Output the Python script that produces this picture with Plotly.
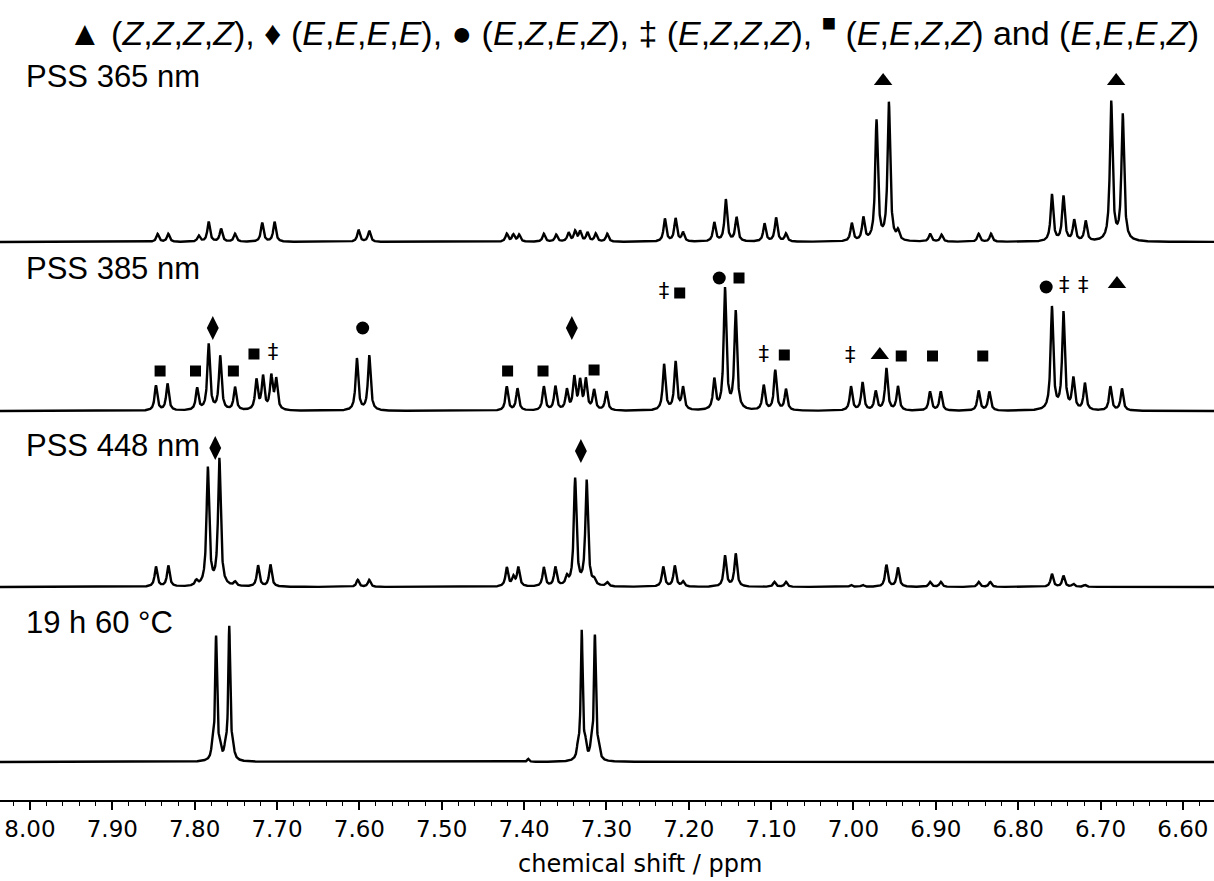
import numpy as np
import plotly.graph_objects as go

# ---- peak lists (chemical shift / ppm, intensity in plot units) ----
pss365_ppm = [7.845, 7.832, 7.795, 7.783, 7.768, 7.751, 7.718, 7.703, 7.601, 7.588,
              7.421, 7.413, 7.406, 7.376, 7.361, 7.346, 7.338, 7.332, 7.323, 7.313, 7.299,
              7.229, 7.216, 7.207, 7.169, 7.155, 7.142, 7.108, 7.094, 7.082,
              7.002, 6.988, 6.972, 6.957, 6.946, 6.907, 6.893, 6.848, 6.833,
              6.759, 6.745, 6.732, 6.718, 6.687, 6.673]
pss365_int = [8, 8, 6, 20, 13, 8, 19, 20, 12, 11,
              8, 7, 7, 8, 7, 9, 10, 10, 9, 8, 8,
              23, 23, 9, 19, 42, 24, 18, 24, 8,
              18, 23, 120, 138, 9, 8, 7, 8, 8,
              47, 45, 21, 20, 139, 126]

pss385_ppm = [7.847, 7.833, 7.797, 7.783, 7.769, 7.751, 7.725, 7.717, 7.707, 7.701, 7.603, 7.588,
              7.421, 7.408, 7.376, 7.362, 7.348, 7.339, 7.332, 7.325, 7.315, 7.300,
              7.230, 7.216, 7.207, 7.169, 7.156, 7.143, 7.109, 7.095, 7.082,
              7.003, 6.989, 6.973, 6.960, 6.946, 6.907, 6.894, 6.848, 6.835,
              6.759, 6.745, 6.733, 6.719, 6.688, 6.674]
pss385_int = [25, 27, 22, 66, 54, 23, 30, 33, 33, 30, 52, 55,
              24, 22, 24, 24, 20, 32, 28, 30, 20, 19,
              46, 48, 22, 30, 121, 98, 25, 40, 21,
              24, 28, 19, 42, 24, 19, 19, 20, 19,
              103, 97, 31, 27, 24, 22]

pss448_ppm = [7.847, 7.832, 7.798, 7.784, 7.770, 7.751, 7.723, 7.708, 7.602, 7.588,
              7.421, 7.413, 7.407, 7.376, 7.362, 7.348, 7.338, 7.324, 7.315, 7.299,
              7.231, 7.217, 7.207, 7.156, 7.143, 7.096, 7.082,
              7.003, 6.989, 6.960, 6.946, 6.907, 6.894, 6.848, 6.834,
              6.759, 6.745, 6.733, 6.719]
pss448_int = [20, 21, 5, 118, 127, 4, 21, 22, 7, 7,
              19, 9, 19, 19, 19, 8, 107, 105, 5, 4,
              20, 21, 5, 31, 33, 5, 5,
              2, 2, 22, 19, 5, 5, 5, 5,
              13, 11, 3, 2]

therm_ppm = [7.7785, 7.774, 7.7695, 7.7625, 7.758, 7.7535, 7.395,
             7.3345, 7.330, 7.3255, 7.3185, 7.314, 7.3095]
therm_int = [12, 123, 12, 12, 133, 12, 3,
             12, 129, 12, 12, 124, 12]

spectra = [
    ("PSS 365 nm", pss365_ppm, pss365_int, 0.0019, 558),
    ("PSS 385 nm", pss385_ppm, pss385_int, 0.0019, 389),
    ("PSS 448 nm", pss448_ppm, pss448_int, 0.0019, 213),
    ("19 h 60 \u00b0C", therm_ppm, therm_int, 0.0014, 38),
]
label_y = [724, 532, 355, 178]

# ---- isomer assignment marks: (ppm, level) per symbol ----
tri_ppm = [6.964, 6.681, 6.968, 6.680]
tri_lvl = [719, 719, 445, 516]
dia_ppm = [7.778, 7.342, 7.775, 7.331]
dia_lvl = [472, 472, 352, 349]
circ_ppm = [7.596, 7.163, 6.766]
circ_lvl = [472, 522, 513]
sq_ppm = [7.842, 7.799, 7.753, 7.728, 7.420, 7.377, 7.315, 7.211, 7.139, 7.084,
          6.942, 6.904, 6.843]
sq_lvl = [429, 429, 429, 446, 429, 429, 430, 507, 522, 445, 444, 444, 444]
dag_ppm = [7.705, 7.230, 7.109, 7.004, 6.744, 6.721]
dag_lvl = [446, 507, 444, 443, 513, 513]

ppm = np.linspace(8.04, 6.56, 7401)

fig = go.Figure()
for name, pos, amp, hw, base in spectra:
    y = np.full_like(ppm, float(base))
    for p, a in zip(pos, amp):
        y += a / (1.0 + ((ppm - p) / hw) ** 2)
    fig.add_trace(go.Scatter(x=ppm, y=y, mode="lines",
                             line=dict(color="black", width=2.4),
                             hoverinfo="skip", showlegend=False, name=name))

mark_style = dict(mode="markers", hoverinfo="skip", showlegend=False)
fig.add_trace(go.Scatter(x=tri_ppm, y=tri_lvl, marker=dict(symbol="triangle-up", size=16, color="black"), **mark_style))
fig.add_trace(go.Scatter(x=dia_ppm, y=dia_lvl, marker=dict(symbol="diamond-tall", size=17, color="black"), **mark_style))
fig.add_trace(go.Scatter(x=circ_ppm, y=circ_lvl, marker=dict(symbol="circle", size=13, color="black"), **mark_style))
fig.add_trace(go.Scatter(x=sq_ppm, y=sq_lvl, marker=dict(symbol="square", size=11, color="black"), **mark_style))
fig.add_trace(go.Scatter(x=dag_ppm, y=dag_lvl, mode="text", text=["\u2021"] * len(dag_ppm),
                         textfont=dict(family="DejaVu Sans", size=21, color="black"),
                         hoverinfo="skip", showlegend=False))

for (name, *_), ly in zip(spectra, label_y):
    fig.add_annotation(x=0.02, xref="paper", y=ly, yref="y", text=name, showarrow=False,
                       xanchor="left", yanchor="middle",
                       font=dict(family="Liberation Sans", size=31, color="black"))

legend_text = ("\u25b2 (<i>Z</i>,<i>Z</i>,<i>Z</i>,<i>Z</i>), "
               "\u2666 (<i>E</i>,<i>E</i>,<i>E</i>,<i>E</i>), "
               "\u25cf (<i>E</i>,<i>Z</i>,<i>E</i>,<i>Z</i>), "
               "\u2021 (<i>E</i>,<i>Z</i>,<i>Z</i>,<i>Z</i>), "
               "<sup>\u25a0</sup> (<i>E</i>,<i>E</i>,<i>Z</i>,<i>Z</i>) and "
               "(<i>E</i>,<i>E</i>,<i>E</i>,<i>Z</i>)")
fig.add_annotation(x=0.522, xref="paper", y=770, yref="y", text=legend_text, showarrow=False,
                   xanchor="center", yanchor="middle",
                   font=dict(family="Liberation Sans", size=34, color="black"))

# axis caption, set slightly right of centre as in the layout
fig.add_annotation(x=0.527, xref="paper", y=-0.08, yref="paper", text="chemical shift / ppm",
                   showarrow=False, xanchor="center", yanchor="middle",
                   font=dict(family="DejaVu Sans", size=24, color="black"))

fig.update_layout(
    width=1214, height=881,
    margin=dict(l=0, r=0, t=0, b=81),
    paper_bgcolor="white", plot_bgcolor="white",
    xaxis=dict(range=[8.0364, 6.5622], showgrid=False, zeroline=False,
               showline=True, linecolor="black", linewidth=1.5,
               ticks="outside", ticklen=8, tickwidth=1.5, tickcolor="black",
               tick0=8.0, dtick=0.1, tickformat=".2f",
               minor=dict(ticks="outside", ticklen=4, tickwidth=1, tickcolor="black", dtick=0.02, tick0=8.0),
               tickfont=dict(family="DejaVu Sans", size=23, color="black")),
    yaxis=dict(range=[0, 800], visible=False),
)

fig.write_html("out.html")
